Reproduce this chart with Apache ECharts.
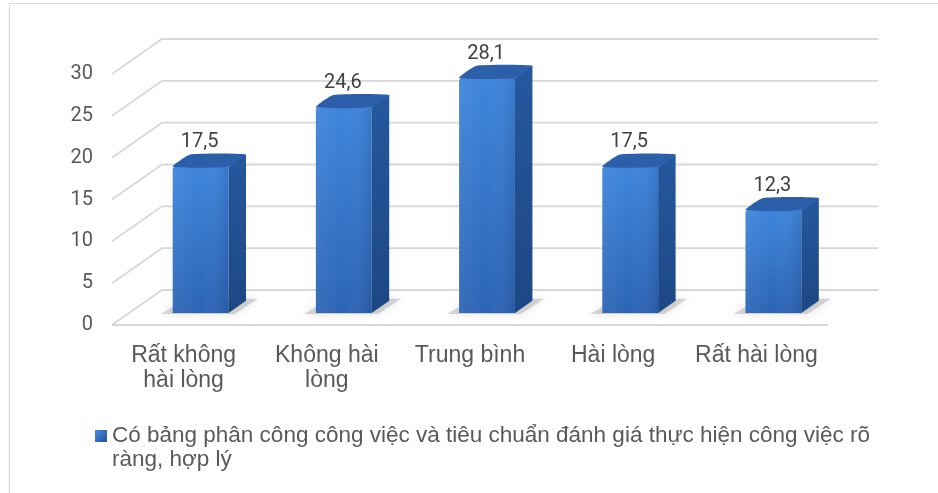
<!DOCTYPE html>
<html>
<head>
<meta charset="utf-8">
<script src="https://cdn.jsdelivr.net/npm/echarts@6/dist/echarts.min.js"></script>
<style>
  html, body { margin: 0; padding: 0; background: #ffffff; }
  #chart { width: 938px; height: 493px; }
</style>
</head>
<body>
<div id="chart"></div>
<script>
// Survey answers and their shares (%)
const categories = ['Rất không hài lòng', 'Không hài lòng', 'Trung bình', 'Hài lòng', 'Rất hài lòng'];
const values = [17.5, 24.6, 28.1, 17.5, 12.3];
const yTicks = [0, 5, 10, 15, 20, 25, 30];
const seriesName = 'Có bảng phân công công việc và tiêu chuẩn đánh giá thực hiện công việc rõ ràng, hợp lý';

// Oblique projection of the floor depth: offset from front plane to back wall
const DX = 50, DY = -35;
// Depth range (0 = front, 1 = back wall) occupied by the bars
const D1 = 0.34, D2 = 0.69;
const BAR_FRAC = 0.39;

const GRID_COLOR = '#d8d8d8';
const TEXT_COLOR = '#595959';

const fmt = v => String(v).replace('.', ',');

// Greedy word wrap by character count
function wrap(text, maxChars) {
  const lines = [];
  let cur = '';
  text.split(' ').forEach(word => {
    const next = cur ? cur + ' ' + word : word;
    if (next.length > maxChars && cur) {
      lines.push(cur);
      cur = word;
    } else {
      cur = next;
    }
  });
  if (cur) lines.push(cur);
  return lines.join('\n');
}

function renderWalls(params, api) {
  const cs = params.coordSys;
  const v = api.value(1);
  const y = api.coord([0, v])[1];
  const children = [{
    type: 'polyline',
    shape: { points: [[cs.x, y], [cs.x + DX, y + DY], [cs.x + cs.width + DX, y + DY]] },
    style: { stroke: GRID_COLOR, lineWidth: 1.8, fill: null }
  }];
  if (v === 0) {
    children.push({
      type: 'line',
      shape: { x1: cs.x, y1: y, x2: cs.x + cs.width, y2: y },
      style: { stroke: GRID_COLOR, lineWidth: 1.8 }
    });
  }
  return { type: 'group', children };
}

function renderBar(params, api) {
  const idx = api.value(0);
  const val = api.value(1);
  const base = api.coord([idx, 0]);
  const top = api.coord([idx, val]);
  const band = api.size([1, 0])[0];
  const w = band * BAR_FRAC;
  const cx = base[0] + D1 * DX;
  const yb = base[1] + D1 * DY;
  const yt = top[1] + D1 * DY;
  const x0 = cx - w / 2, x1 = cx + w / 2;
  const ddx = (D2 - D1) * DX, ddy = (D2 - D1) * DY;

  const shadow = {
    type: 'polygon',
    shape: { points: [[x0 - 12, yb + 1], [x1 + 6, yb + 1], [x1 + ddx + 12, yb + ddy - 2], [x0 + ddx - 4, yb + ddy - 2]] },
    style: { fill: 'rgba(150,150,150,0.35)', shadowBlur: 8, shadowColor: 'rgba(120,120,120,0.6)' },
    silent: true
  };
  const front = {
    type: 'rect',
    shape: { x: x0, y: yt, width: w, height: yb - yt, r: [3, 0, 0, 0] },
    style: {
      fill: new echarts.graphic.LinearGradient(0, 0, 0, 1, [
        { offset: 0, color: '#3e85db' },
        { offset: 1, color: '#2c64b5' }
      ])
    }
  };
  const frontShade = {
    type: 'rect',
    shape: { x: x0, y: yt, width: w, height: yb - yt, r: [3, 0, 0, 0] },
    style: {
      fill: new echarts.graphic.LinearGradient(0, 0, 1, 0, [
        { offset: 0, color: 'rgba(255,255,255,0.06)' },
        { offset: 0.5, color: 'rgba(255,255,255,0)' },
        { offset: 1, color: 'rgba(0,0,40,0.10)' }
      ])
    }
  };
  const side = {
    type: 'polygon',
    shape: { points: [[x1, yt], [x1 + ddx, yt + ddy], [x1 + ddx, yb + ddy], [x1, yb]] },
    style: {
      fill: new echarts.graphic.LinearGradient(0, 0, 0, 1, [
        { offset: 0, color: '#25589e' },
        { offset: 1, color: '#1d4784' }
      ])
    }
  };
  const topFace = {
    type: 'polygon',
    shape: { points: [[x0, yt], [x1, yt], [x1 + ddx, yt + ddy], [x0 + ddx, yt + ddy]], smooth: 0.15 },
    style: { fill: '#2b5fa9' }
  };
  const label = {
    type: 'text',
    style: {
      text: fmt(val),
      x: cx - 1,
      y: yt + ddy - 12,
      align: 'center',
      verticalAlign: 'middle',
      fontSize: 20,
      fontFamily: 'Roboto',
      fill: '#404040'
    }
  };
  return { type: 'group', children: [shadow, front, frontShade, side, topFace, label] };
}

const chart = echarts.init(document.getElementById('chart'), null, { renderer: 'canvas' });
chart.setOption({
  animation: false,
  backgroundColor: '#ffffff',
  graphic: [{
    type: 'rect',
    shape: { x: 9.5, y: 3.5, width: 1000, height: 600 },
    style: { fill: null, stroke: '#d9d9d9', lineWidth: 1.2 },
    silent: true,
    z: -10
  }],
  grid: { left: 112, right: 110, top: 74, bottom: 168 },
  xAxis: {
    type: 'category',
    data: categories,
    axisLine: { show: false },
    axisTick: { show: false },
    axisLabel: {
      interval: 0,
      margin: 18,
      formatter: v => wrap(v, 12),
      fontSize: 23,
      lineHeight: 25,
      fontFamily: 'Liberation Sans',
      color: TEXT_COLOR
    }
  },
  yAxis: {
    type: 'value',
    min: 0,
    max: 30,
    interval: 5,
    axisLine: { show: false },
    axisTick: { show: false },
    splitLine: { show: false },
    axisLabel: {
      margin: 19,
      fontSize: 20,
      fontFamily: 'Roboto',
      color: TEXT_COLOR
    }
  },
  legend: {
    left: 95,
    top: 400,
    padding: 0,
    icon: 'rect',
    itemWidth: 12,
    itemHeight: 12,
    itemGap: 4,
    data: [{
      name: seriesName,
      itemStyle: {
        color: new echarts.graphic.LinearGradient(0, 0, 1, 1, [
          { offset: 0, color: '#4a8fe0' },
          { offset: 1, color: '#1f4f96' }
        ])
      }
    }],
    // first line sits level with the marker, the rest wraps below it
    formatter: name => '\n' + name.replace(' ràng', '\nràng'),
    textStyle: {
      fontSize: 22.5,
      lineHeight: 24,
      fontFamily: 'Liberation Sans',
      color: TEXT_COLOR
    }
  },
  series: [
    {
      type: 'custom',
      name: 'walls',
      renderItem: renderWalls,
      data: yTicks.map(v => [0, v]),
      encode: { x: 0, y: 1 },
      silent: true,
      z: 1
    },
    {
      type: 'custom',
      name: seriesName,
      renderItem: renderBar,
      data: values.map((v, i) => [i, v]),
      encode: { x: 0, y: 1 },
      itemStyle: { color: '#2e6bc0' },
      z: 5
    }
  ]
});
</script>
</body>
</html>
